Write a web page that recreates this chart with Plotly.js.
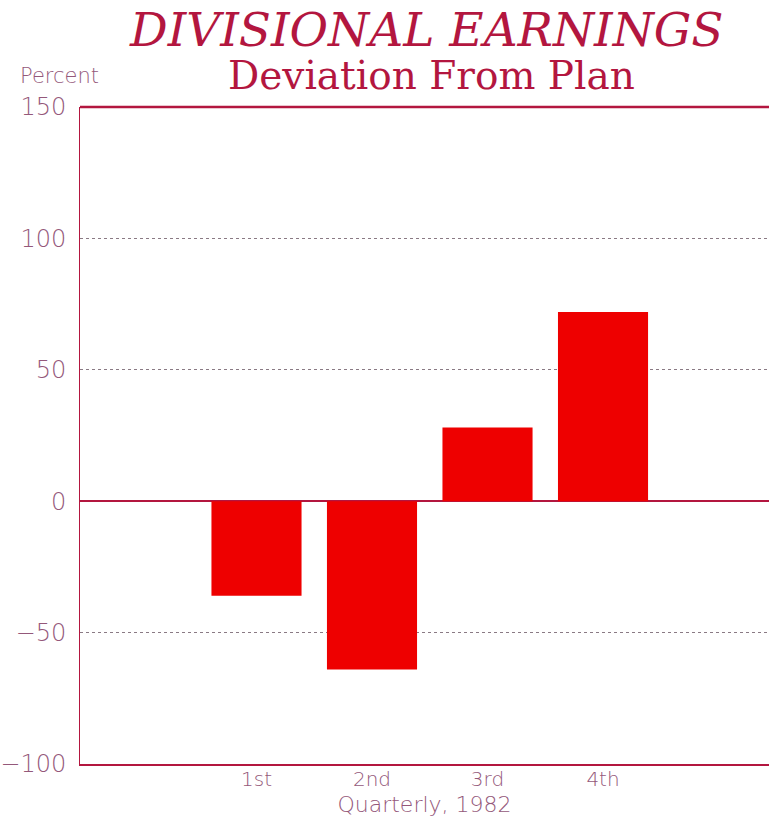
<!DOCTYPE html>
<html>
<head>
<meta charset="utf-8">
<script src="https://cdn.plot.ly/plotly-3.0.1.min.js"></script>
<style>html,body{margin:0;padding:0;background:#fff;}#chart{width:769px;height:821px;}</style>
</head>
<body>
<div id="chart"></div>
<script>
const quarters = ["1st", "2nd", "3rd", "4th"];
const quarterPos = [1, 2, 3, 4];
const deviation = [-36, -64, 28, 72];
const yTicks = [-100, -50, 0, 50, 100, 150];

const crimson = "#b3163f";
const tickColor = "#94587a";
const sans = "DejaVu Sans, sans-serif";

const trace = {
  type: "bar",
  x: quarterPos,
  y: deviation,
  width: 0.78,
  marker: {color: "#ee0000", line: {width: 0}},
  hoverinfo: "skip"
};

const layout = {
  width: 769,
  height: 821,
  margin: {l: 80, r: 0, t: 107, b: 57},
  paper_bgcolor: "#ffffff",
  plot_bgcolor: "#ffffff",
  showlegend: false,
  title: {
    text: "DIVISIONAL EARNINGS",
    font: {family: "DejaVu Serif, serif", size: 47, color: crimson, style: "italic", weight: 200},
    x: 0.555, xanchor: "center",
    y: 0.964, yanchor: "middle"
  },
  xaxis: {
    range: [-0.528, 5.437],
    tickvals: quarterPos,
    ticktext: quarters,
    showgrid: false,
    zeroline: false,
    showline: true,
    linecolor: crimson,
    linewidth: 2,
    ticks: "",
    ticklabelstandoff: -4,
    tickfont: {family: sans, size: 20, color: tickColor, weight: 200},
    title: {text: "Quarterly, 1982", font: {family: sans, size: 22, color: tickColor, weight: 200}, standoff: 7}
  },
  yaxis: {
    range: [-100, 150],
    tickvals: yTicks,
    ticktext: yTicks.map(v => v < 0 ? "\u2212" + Math.abs(v) : String(v)),
    showgrid: true,
    gridcolor: "#8a7a84",
    gridwidth: 1,
    griddash: "dot",
    zeroline: true,
    zerolinecolor: crimson,
    zerolinewidth: 2,
    showline: true,
    linecolor: crimson,
    linewidth: 1,
    ticks: "",
    ticklabelstandoff: 8,
    tickfont: {family: sans, size: 24, color: tickColor, weight: 200}
  },
  shapes: [
    {type: "line", xref: "paper", yref: "paper", x0: 0, x1: 1, y0: 1, y1: 1,
     line: {color: crimson, width: 2.5}}
  ],
  annotations: [
    {text: "Deviation From Plan", xref: "paper", yref: "paper", x: 0.51, y: 1.048,
     xanchor: "center", yanchor: "middle", showarrow: false,
     font: {family: "DejaVu Serif, serif", size: 39, color: crimson, weight: 200}},
    {text: "Percent", xref: "paper", yref: "paper", x: -0.09, y: 1.047,
     xanchor: "left", yanchor: "middle", showarrow: false,
     font: {family: sans, size: 21, color: tickColor, weight: 200}}
  ]
};

Plotly.newPlot("chart", [trace], layout, {displayModeBar: false, staticPlot: true});
</script>
</body>
</html>
